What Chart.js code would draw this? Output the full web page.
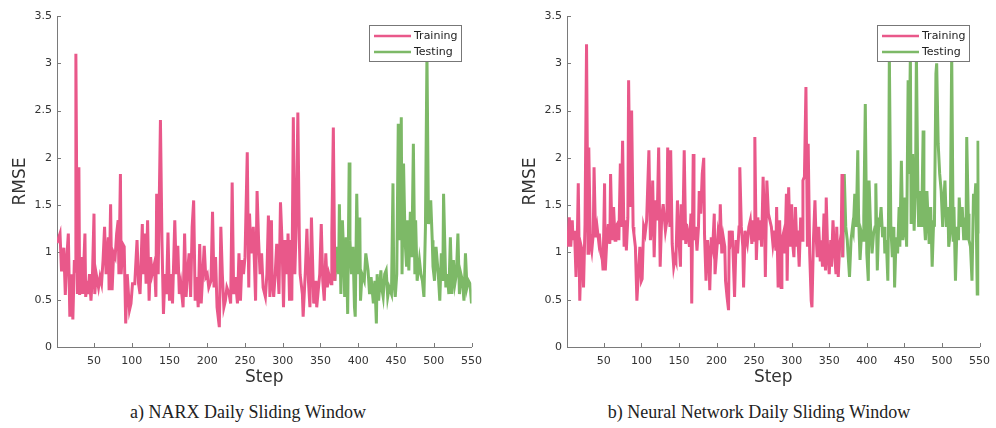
<!DOCTYPE html>
<html lang="en">
<head>
  <meta charset="UTF-8" />
  <title>RMSE - Daily Sliding Window</title>
  <script src="https://cdn.jsdelivr.net/npm/chart.js"></script>
  <style>
    body {
      margin: 0;
      background: #fff;
      width: 996px;
      height: 428px;
      position: relative;
      overflow: hidden;
    }
    .panel { position: absolute; top: 0; }
    #left { left: 0; width: 490px; height: 392px; }
    #right { left: 510px; width: 488px; height: 392px; }
    .caption {
      position: absolute;
      top: 401px;
      font-family: 'Liberation Serif', 'Times New Roman', serif;
      font-size: 18px;
      line-height: 22px;
      color: #222;
      white-space: nowrap;
      transform: translateX(-50%);
    }
  </style>
</head>
<body>
  <div class="panel" id="left"><canvas id="narxChart" width="490" height="392"></canvas></div>
  <div class="panel" id="right"><canvas id="nnChart" width="488" height="392"></canvas></div>
  <div class="caption" style="left:248px">a) NARX Daily Sliding Window</div>
  <div class="caption" style="left:759px">b) Neural Network Daily Sliding Window</div>

  <script>
    // axis ticks
    const stepTicks = [50, 100, 150, 200, 250, 300, 350, 400, 450, 500, 550]
    const rmseTicks = [0, 0.5, 1, 1.5, 2, 2.5, 3, 3.5]

    // a) NARX - training
    const narxTrainStep = [1,5,7,10,12,14,16,18,20,22,24,25,26,28,30,31,33,35,36,38,39,41,42,44,46,48,50,51,53,56,58,60,62,64,66,69,70,72,73,74,76,78,80,82,83,85,86,88,90,92,94,97,99,101,104,107,109,111,114,115,117,119,121,123,125,127,130,132,133,135,138,140,142,144,146,148,150,152,154,157,159,161,163,165,168,170,172,174,176,178,180,182,184,186,188,190,192,194,196,198,200,202,205,207,209,211,213,216,218,220,222,224,226,229,231,233,235,237,240,242,244,246,248,250,253,255,256,258,261,264,266,268,270,272,274,277,279,281,283,285,286,288,290,292,295,297,299,301,303,306,307,309,310,312,314,316,318,320,322,323,326,327,330,332,334,336,338,340,341,344,345,347,349,351,353,355,357,359,361,364,365,367,369]
    const narxTrainRmse = [1.1,1.2,0.8,1.05,0.55,0.95,1.2,0.32,0.77,0.29,0.92,0.8,3.1,0.56,1.9,0.55,0.95,0.56,0.77,1.2,0.53,0.7,0.56,0.77,0.49,0.77,1.41,0.56,0.77,0.63,0.74,0.67,0.92,1.27,0.77,1.16,0.6,1.51,0.92,0.6,0.99,0.95,1.2,1.34,0.77,1.83,0.77,1.09,1.06,0.25,0.77,0.39,0.46,0.67,0.67,1.13,0.67,0.56,1.3,0.77,1.2,0.67,1.34,0.49,0.95,0.77,0.88,0.53,1.62,0.77,2.4,1.13,0.35,0.77,0.56,1.21,0.49,0.77,0.46,1.34,0.77,1.07,0.56,0.67,0.42,1.2,0.53,0.81,0.99,0.53,1.27,1.55,0.49,0.74,0.42,1.09,0.46,0.77,1.07,0.74,0.77,0.63,0.7,1.43,0.63,0.95,0.42,0.21,1.27,0.77,0.42,0.49,0.63,0.56,0.46,1.74,0.56,0.74,0.46,0.99,0.49,0.92,0.77,0.95,2.06,0.63,1.41,0.99,1.27,0.49,1.65,1.13,0.77,0.99,0.63,0.53,0.77,1.39,0.53,1.34,0.7,0.53,0.77,1.09,0.56,1.53,1.13,0.42,1.13,0.77,1.2,0.49,1.13,0.49,2.43,0.77,1.34,2.48,1.13,0.77,0.56,0.32,0.81,1.25,0.7,0.42,1.37,0.77,0.46,0.7,0.42,0.6,0.77,1.3,0.7,0.49,0.99,0.63,0.77,0.67,1.2,2.32,0.7]

    // a) NARX - testing
    const narxTestStep = [369,372,374,375,377,379,381,382,384,386,388,389,391,393,395,396,398,400,402,403,405,408,410,413,415,417,420,422,424,425,427,430,431,433,435,437,439,441,444,446,447,449,451,453,455,457,458,460,462,464,465,467,469,471,473,475,476,478,481,483,485,487,489,491,493,496,498,499,501,503,506,508,510,512,513,516,518,520,522,524,526,528,530,532,534,536,538,540,542,544,546,548,550]
    const narxTestRmse = [0.7,1.06,0.77,1.51,0.56,1.34,0.92,0.53,1.16,0.35,1.95,1.13,0.77,1.06,0.42,0.32,1.62,0.77,1.37,0.49,0.77,0.7,0.99,0.81,0.56,0.74,0.46,0.7,0.25,0.77,0.49,0.81,0.63,0.53,0.77,0.81,0.53,0.63,0.56,1.73,0.7,0.53,0.77,2.36,1.13,2.43,0.77,1.94,1.13,0.85,1.34,0.81,1.43,0.95,2.15,0.77,1.34,0.7,0.92,0.77,0.7,0.53,1.27,3.1,1.3,1.55,1.13,0.85,0.7,1.06,0.77,0.49,0.99,0.7,1.62,0.63,0.77,0.56,1.16,0.56,0.92,0.67,0.77,1.2,0.56,0.77,0.7,0.49,0.99,0.63,0.7,0.67,0.46]

    // b) Neural network - training
    const nnTrainStep = [1,2,4,6,8,9,11,13,15,16,18,20,22,23,25,27,29,30,32,34,36,37,39,41,43,44,46,48,49,51,52,54,56,58,59,61,63,65,66,68,70,72,73,75,77,79,80,82,83,85,87,89,90,92,94,96,98,100,101,103,105,107,110,112,114,115,117,119,121,123,125,127,129,132,134,135,138,139,141,143,145,146,148,150,152,153,155,157,159,160,162,164,166,167,169,170,172,174,176,177,179,181,183,184,186,188,190,191,193,195,197,198,200,202,204,205,207,209,211,212,214,216,217,219,221,223,224,226,228,230,231,233,235,236,238,240,241,243,245,247,248,250,251,253,255,257,258,260,262,264,265,267,269,271,273,275,277,279,280,282,284,286,287,289,291,293,294,296,298,300,301,303,305,307,308,310,312,314,315,317,319,321,322,324,326,327,329,331,332,334,336,338,339,341,343,345,346,348,350,352,353,355,357,359,360,362,364,366,367,368]
    const nnTrainRmse = [1.16,1.06,1.37,1.06,1.34,1.13,1.23,0.74,1.27,1.73,0.49,1.06,0.99,0.63,1.3,3.2,0.99,2.11,1.13,1.02,1.2,1.9,1.16,1.27,1.13,1.2,0.99,0.92,0.81,1.73,0.81,1.13,1.3,1.09,1.83,1.13,1.48,1.13,1.27,1.3,1.13,1.94,1.27,2.18,1.06,1.34,1.02,1.37,2.82,1.48,2.5,1.27,1.2,1.06,0.49,0.77,1.06,0.7,0.72,1.27,1.2,1.34,2.08,1.13,1.34,1.76,0.95,1.55,1.34,2.11,0.85,1.37,1.51,1.23,1.34,2.11,1.27,2.08,1.09,0.85,0.95,0.92,1.55,1.13,0.85,1.51,1.13,2.08,1.09,1.3,1.2,1.06,1.41,0.46,2.04,1.13,1.27,1.02,1.27,1.65,1.41,1.83,2.0,1.2,0.7,1.13,0.92,0.6,1.16,1.06,1.41,0.77,0.99,1.2,1.09,1.51,0.99,1.16,1.06,0.7,0.53,0.39,1.23,1.13,1.23,0.77,0.53,1.13,0.99,1.27,1.9,1.27,1.06,0.63,1.23,1.13,1.09,1.27,1.34,1.09,1.34,1.13,2.22,0.92,1.37,1.13,1.34,1.06,1.8,1.27,0.74,1.76,1.41,1.34,1.27,1.09,1.23,1.02,1.48,0.63,1.34,0.63,1.13,1.2,0.99,1.62,0.7,1.69,1.06,1.51,1.13,0.95,1.48,1.06,1.23,0.85,1.37,1.13,1.76,1.8,2.75,1.06,2.15,0.99,0.49,0.42,1.13,1.55,1.27,0.95,1.27,0.92,1.13,0.85,1.41,0.81,1.58,0.99,0.77,1.13,0.85,1.34,0.99,0.77,1.27,0.74,1.09,1.2,1.83,0.95]

    // b) Neural network - testing
    const nnTestStep = [368,370,372,374,375,377,379,381,382,384,386,388,389,391,393,395,396,398,400,402,403,405,407,409,411,412,414,416,417,419,421,423,424,426,428,429,430,432,434,436,437,439,441,443,444,446,448,450,451,453,455,456,458,459,461,463,465,466,468,469,471,473,475,476,478,480,482,483,485,487,489,490,492,493,495,497,499,501,502,504,506,508,509,511,513,515,516,518,520,522,523,525,527,529,530,532,533,535,536,538,540,542,543,545,547,548,549,550]
    const nnTestRmse = [0.95,1.83,1.27,1.13,0.99,0.74,1.13,1.27,1.23,1.62,1.27,2.08,1.41,0.92,1.2,1.13,1.37,2.57,0.99,0.7,1.76,1.27,0.99,1.2,1.27,1.73,0.81,1.37,1.27,1.48,1.16,1.27,0.99,1.13,0.7,1.48,3.1,1.27,0.95,1.27,0.63,1.16,0.99,1.48,1.06,1.97,1.13,1.27,1.58,1.06,2.82,1.83,3.1,1.3,2.04,1.23,1.83,3.1,1.65,1.27,1.65,1.27,2.29,1.41,1.13,1.65,1.27,1.09,1.48,0.85,1.34,1.27,2.89,3.0,2.15,1.83,1.65,1.27,1.48,1.76,1.27,1.48,1.06,1.2,3.1,1.13,1.48,0.7,1.27,1.13,1.58,1.27,1.48,1.13,1.37,1.13,2.22,1.41,1.13,1.06,0.7,1.62,1.44,1.73,0.56,2.18,1.34,1.2]

    const trainColor = '#e9588a'
    const testColor = '#7db967'
    const axisColor = '#7a7a7a'
    const textColor = '#333'

    Chart.defaults.font.family = '"DejaVu Sans", Verdana, sans-serif'
    Chart.defaults.font.size = 11
    Chart.defaults.color = textColor

    const toPoints = (steps, vals) => steps.map((s, i) => ({ x: s, y: vals[i] }))

    // small tick marks pointing into the plot, like the matlab axes
    const innerTicks = {
      id: 'innerTicks',
      beforeDatasetsDraw(chart) {
        const { ctx, chartArea, scales } = chart
        ctx.save()
        ctx.strokeStyle = axisColor
        ctx.lineWidth = 1
        ctx.beginPath()
        scales.x.ticks.forEach((t, i) => {
          const px = Math.round(scales.x.getPixelForTick(i)) + 0.5
          ctx.moveTo(px, chartArea.bottom)
          ctx.lineTo(px, chartArea.bottom - 4)
        })
        scales.y.ticks.forEach((t, i) => {
          const py = Math.round(scales.y.getPixelForTick(i)) + 0.5
          ctx.moveTo(chartArea.left, py)
          ctx.lineTo(chartArea.left + 4, py)
        })
        ctx.stroke()
        ctx.restore()
      }
    }

    // boxed legend in the top right corner, drawn over the lines
    const boxLegend = {
      id: 'boxLegend',
      afterDatasetsDraw(chart) {
        const { ctx, chartArea } = chart
        const w = 92, h = 36
        const x0 = Math.round(chartArea.right - 103), y0 = Math.round(chartArea.top + 9)
        ctx.save()
        ctx.fillStyle = '#fff'
        ctx.fillRect(x0, y0, w, h)
        ctx.strokeStyle = '#777'
        ctx.lineWidth = 1
        ctx.strokeRect(x0 + 0.5, y0 + 0.5, w, h)
        ctx.font = '11px "DejaVu Sans", sans-serif'
        ctx.textBaseline = 'middle'
        chart.data.datasets.forEach((ds, i) => {
          const y = y0 + 11 + i * 16
          ctx.strokeStyle = ds.borderColor
          ctx.lineWidth = 2.5
          ctx.beginPath()
          ctx.moveTo(x0 + 5, y)
          ctx.lineTo(x0 + 42, y)
          ctx.stroke()
          ctx.fillStyle = '#222'
          ctx.fillText(ds.label, x0 + 45, y)
        })
        ctx.restore()
      }
    }

    function makeChart(id, trainSteps, trainVals, testSteps, testVals, padRight) {
      return new Chart(document.getElementById(id), {
        type: 'line',
        data: {
          datasets: [
            { label: 'Training', data: toPoints(trainSteps, trainVals), borderColor: trainColor, borderWidth: 3, pointRadius: 0, tension: 0, fill: false },
            { label: 'Testing', data: toPoints(testSteps, testVals), borderColor: testColor, borderWidth: 3, pointRadius: 0, tension: 0, fill: false }
          ]
        },
        options: {
          responsive: false,
          animation: false,
          layout: { padding: { top: 16, right: padRight, left: 0, bottom: 0 } },
          plugins: {
            legend: { display: false },
            tooltip: { enabled: false }
          },
          scales: {
            x: {
              type: 'linear',
              min: 1,
              max: 550,
              afterBuildTicks: s => { s.ticks = stepTicks.map(v => ({ value: v })) },
              afterFit: s => { s.height = 45 },
              grid: { display: false, drawTicks: false },
              border: { color: axisColor },
              ticks: { padding: 8, maxRotation: 0, color: textColor, callback: v => String(v) },
              title: { display: true, text: 'Step', color: textColor, font: { size: 17 }, padding: { top: 0, bottom: 4 } }
            },
            y: {
              min: 0,
              max: 3.5,
              afterBuildTicks: s => { s.ticks = rmseTicks.map(v => ({ value: v })) },
              afterFit: s => { s.width = 57 },
              grid: { display: false, drawTicks: false },
              border: { color: axisColor },
              ticks: { padding: 5, color: textColor, callback: v => String(v) },
              title: { display: true, text: 'RMSE', color: textColor, font: { size: 17 }, padding: { top: 10, bottom: 0 } }
            }
          }
        },
        plugins: [innerTicks, boxLegend]
      })
    }

    makeChart('narxChart', narxTrainStep, narxTrainRmse, narxTestStep, narxTestRmse, 14)
    makeChart('nnChart', nnTrainStep, nnTrainRmse, nnTestStep, nnTestRmse, 12)
  </script>
</body>
</html>
